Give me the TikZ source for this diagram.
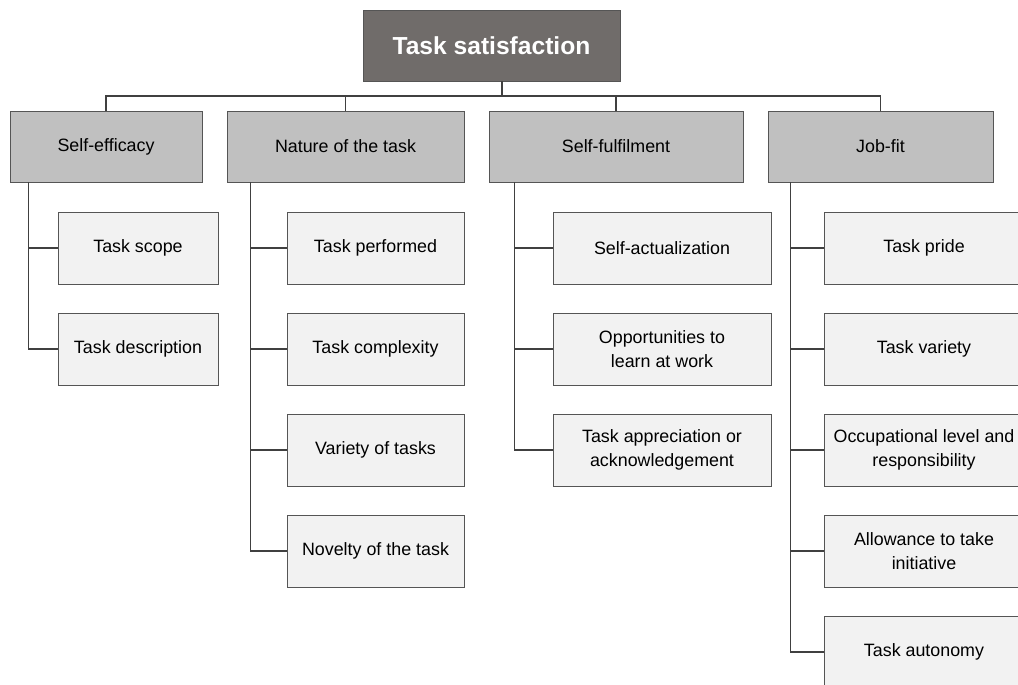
\documentclass[tikz,border=0pt]{standalone}
\usepackage{fontspec}
\setmainfont{Liberation Sans}
\usepackage{tikz}
\usetikzlibrary{positioning,calc}
\definecolor{topgray}{HTML}{706C6A}
\definecolor{midgray}{HTML}{C0C0C0}
\definecolor{leafgray}{HTML}{F2F2F2}
\definecolor{edgegray}{HTML}{555555}
\definecolor{linegray}{HTML}{404040}

\tikzset{
  topbox/.style={draw=edgegray,fill=topgray,text=white,font=\fontsize{17.5}{20}\selectfont\bfseries,
    minimum width=257*.025cm,minimum height=71*.025cm,line width=.7pt},
  midbox/.style={draw=edgegray,fill=midgray,font=\fontsize{12.7}{17}\selectfont,
    minimum height=71*.025cm,line width=.7pt},
  leafbox/.style={draw=edgegray,fill=leafgray,font=\fontsize{12.7}{17}\selectfont,align=center,
    minimum height=72*.025cm,line width=.7pt},
  link/.style={draw=linegray,line width=1pt}
}

\begin{document}
\begin{tikzpicture}[x=.025cm,y=-.025cm]
  \useasboundingbox (0,0) rectangle (1018,684);
  \clip (0,0) rectangle (1018,684);
  \node[topbox] (top) at (491.5,45.5) {Task satisfaction};
  \coordinate (bar) at (0,96);
  % first level
  \node[midbox,minimum width=192*.025cm] (se) at (106,146.5) {Self-efficacy};
  \node[midbox,minimum width=237*.025cm] (nt) at (345.5,146.5) {Nature of the task};
  \node[midbox,minimum width=254*.025cm] (sf) at (616,146.5) {Self-fulfilment};
  \node[midbox,minimum width=225*.025cm] (jf) at (880.5,146.5) {Job-fit};
  \draw[link] ([xshift=10.5*.025cm]top.south) -- ([xshift=10.5*.025cm]top.south |- bar);
  \draw[link] (se.north) -- (se.north |- bar) -- (jf.north |- bar) -- (jf.north);
  \draw[link] (nt.north) -- (nt.north |- bar);
  \draw[link] (sf.north) -- (sf.north |- bar);
  % second level
  \foreach \n/\y/\t in {se1/248/Task scope,se2/349/Task description}{
    \node[leafbox,minimum width=160*.025cm] (\n) at (138,\y) {\t};
    \draw[link] ([xshift=19*.025cm]se.south west) |- (\n.west);}
  \foreach \n/\y/\t in {nt1/248/Task performed,nt2/349/Task complexity,nt3/450/Variety of tasks,nt4/551/Novelty of the task}{
    \node[leafbox,minimum width=177*.025cm] (\n) at (375.5,\y) {\t};
    \draw[link] ([xshift=24*.025cm]nt.south west) |- (\n.west);}
  \foreach \n/\y/\t in {sf1/248/{Self-actualization},sf2/349/{Opportunities to\\learn at work},sf3/450/{Task appreciation or\\acknowledgement}}{
    \node[leafbox,minimum width=218*.025cm] (\n) at (662,\y) {\t};
    \draw[link] ([xshift=26*.025cm]sf.south west) |- (\n.west);}
  \foreach \n/\y/\t in {jf1/248/{Task pride},jf2/349/{Task variety},jf3/450/{Occupational level and\\responsibility},jf4/551/{Allowance to take\\initiative},jf5/652/{Task autonomy}}{
    \node[leafbox,minimum width=200*.025cm] (\n) at (924,\y) {\t};
    \draw[link] ([xshift=23*.025cm]jf.south west) |- (\n.west);}
\end{tikzpicture}
\end{document}
